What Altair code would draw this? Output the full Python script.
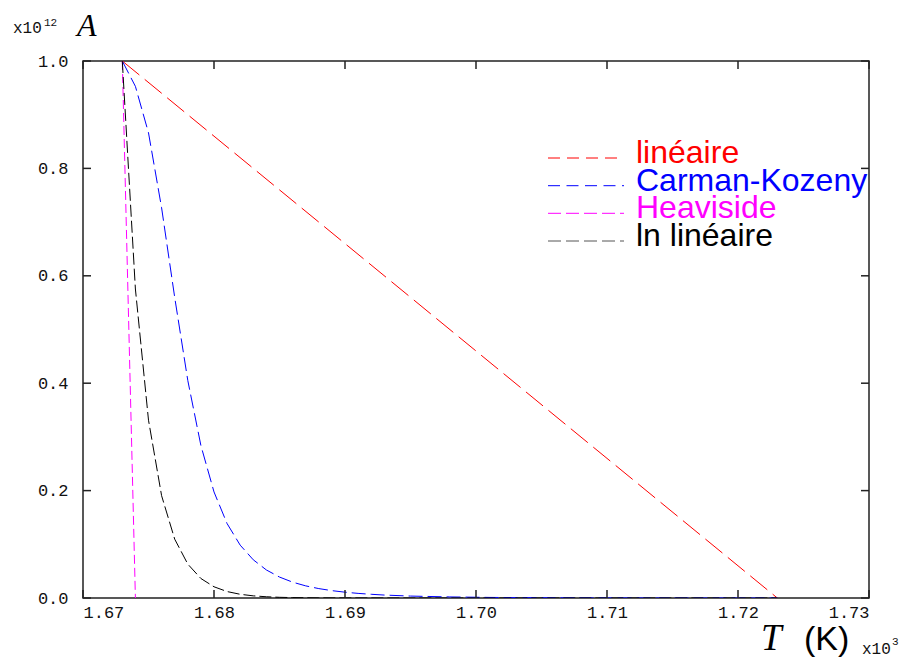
import altair as alt
import pandas as pd

# ---------------- data ----------------
series_names = ["linéaire", "Carman-Kozeny", "Heaviside", "ln linéaire"]
series_colors = ["#ff0000", "#0000ff", "#ff00ff", "#000000"]
legend_sample_colors = ["#ff0000", "#0000ff", "#ff00ff", "#555555"]

T_lin = [1673, 1723]
A_lin = [1.0, 0.0]

T_ck = [1673, 1674, 1675, 1676, 1677, 1678, 1679, 1680, 1681, 1682, 1683,
        1684, 1685, 1686, 1687, 1688, 1689, 1690, 1691, 1692, 1693,
        1695, 1698, 1701, 1703, 1708, 1713, 1718, 1723]
A_ck = [1.0, 0.9528, 0.8662, 0.7266, 0.5598, 0.405, 0.2839, 0.1975, 0.1385,
        0.0984, 0.0711, 0.0522, 0.0390, 0.0295, 0.0226, 0.0175, 0.0137,
        0.0108, 0.0086, 0.0069, 0.0055, 0.0036, 0.0020, 0.0011, 0.00074,
        0.00026, 0.00008, 0.00001, 0.0]

T_heav = [1673, 1674]
A_heav = [1.0, 0.0]

T_ln = [1673, 1674, 1675, 1676, 1677, 1678, 1679, 1680, 1681, 1682, 1683,
        1684, 1685, 1686, 1688, 1693, 1723]
A_ln = [1.0, 0.5754, 0.3311, 0.1905, 0.1096, 0.0631, 0.0363, 0.0209, 0.0120,
        0.0069, 0.0040, 0.0023, 0.0013, 0.00076, 0.00025, 0.00002, 0.0]

x_tick_values = [1670, 1680, 1690, 1700, 1710, 1720, 1730]
y_tick_values = [0.0, 0.2, 0.4, 0.6, 0.8, 1.0]

# ---------------- layout / style ----------------
W, H = 786, 537
TICK = 8
FRAME = "#222222"
MONO = "Liberation Mono"
SANS = "Liberation Sans"
SERIF = "Liberation Serif"

series_T = [T_lin, T_ck, T_heav, T_ln]
series_A = [A_lin, A_ck, A_heav, A_ln]
series_dash = [[22, 7], [14, 5], [9, 4], [12, 4]]
legend_dash = [[12, 7], [12, 6.5], [13, 5], [13, 5]]

x_scale = alt.Scale(domain=[1670, 1730], nice=False, zero=False)
y_scale = alt.Scale(domain=[0, 1], nice=False)

x_axis = alt.Axis(values=x_tick_values, labelExpr="format(datum.value/1000, '.2f')",
                  grid=False, domain=False, ticks=False, tickSize=0,
                  labelFont=MONO, labelFontSize=17, labelColor="#111",
                  labelPadding=6, title=None)
y_axis = alt.Axis(values=y_tick_values, format=".1f",
                  grid=False, domain=False, ticks=False, tickSize=0,
                  labelFont=MONO, labelFontSize=17, labelColor="#111",
                  labelPadding=15, title=None, labelBaseline="middle")

layers = []

# curves
for i, name in enumerate(series_names):
    df = pd.DataFrame({"T": series_T[i], "A": series_A[i]})
    ln = alt.Chart(df).mark_line(
        color=series_colors[i], strokeWidth=1, strokeDash=series_dash[i], clip=True
    ).encode(
        x=alt.X("T:Q", scale=x_scale, axis=x_axis),
        y=alt.Y("A:Q", scale=y_scale, axis=y_axis),
    )
    layers.append(ln)

# inward ticks on all four sides
xt = pd.DataFrame({"T": x_tick_values})
yt = pd.DataFrame({"A": y_tick_values})
layers.append(alt.Chart(xt).mark_rule(color=FRAME, strokeWidth=1.5).encode(
    x=alt.X("T:Q", scale=x_scale), y=alt.value(0), y2=alt.value(TICK)))
layers.append(alt.Chart(xt).mark_rule(color=FRAME, strokeWidth=1.5).encode(
    x=alt.X("T:Q", scale=x_scale), y=alt.value(H - TICK), y2=alt.value(H)))
layers.append(alt.Chart(yt).mark_rule(color=FRAME, strokeWidth=1.5).encode(
    y=alt.Y("A:Q", scale=y_scale), x=alt.value(0), x2=alt.value(TICK)))
layers.append(alt.Chart(yt).mark_rule(color=FRAME, strokeWidth=1.5).encode(
    y=alt.Y("A:Q", scale=y_scale), x=alt.value(W - TICK), x2=alt.value(W)))

# legend (manual, gnuplot style)
leg_text_x = 553
leg_line_x1, leg_line_x2 = 465, 541
leg_baselines = [102, 129.7, 157.3, 185]
for i, name in enumerate(series_names):
    d = alt.Data(values=[{"name": name}])
    yb = leg_baselines[i]
    layers.append(alt.Chart(d).mark_rule(
        color=legend_sample_colors[i], strokeWidth=1, strokeDash=legend_dash[i]
    ).encode(x=alt.value(leg_line_x1), x2=alt.value(leg_line_x2), y=alt.value(yb - 5)))
    layers.append(alt.Chart(d).mark_text(
        align="left", baseline="alphabetic", font=SANS, fontSize=32,
        color=series_colors[i]
    ).encode(x=alt.value(leg_text_x), y=alt.value(yb), text="name:N"))


def label(text, x, y, font, size, style="normal", align="left", color="#111"):
    d = alt.Data(values=[{"t": text}])
    return alt.Chart(d).mark_text(
        align=align, baseline="alphabetic", font=font, fontSize=size,
        fontStyle=style, color=color
    ).encode(x=alt.value(x), y=alt.value(y), text="t:N")


# axis titles with multipliers
layers.append(label("x10", -70, -28, MONO, 16))
layers.append(label("12", -39, -35, MONO, 11))
layers.append(label("A", -6, -25, SERIF, 32, style="italic", color="#000"))
layers.append(label("T", 678, 589, SERIF, 37, style="italic", color="#000"))
layers.append(label("(K)", 721, 589, SANS, 34, color="#000"))
layers.append(label("x10", 779, 593, MONO, 16))
layers.append(label("3", 809, 584, MONO, 11))

chart = alt.layer(*layers).properties(
    width=W, height=H,
    autosize=alt.AutoSizeParams(type="none"),
    padding={"left": 75, "top": 53, "right": 32, "bottom": 60},
    background="white",
).configure_view(stroke=FRAME, strokeWidth=1.5)

chart.save("out.html", embed_options={"renderer": "svg", "actions": False})
